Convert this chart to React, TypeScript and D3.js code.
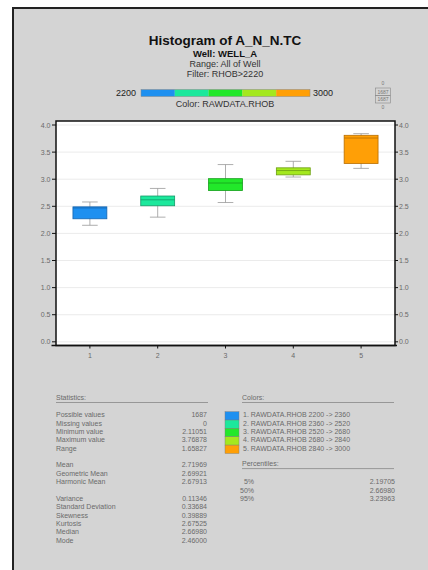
import * as d3 from "d3";
import React from "react";

// box plot data (RHOB classes, g/cc)
const classes = [1, 2, 3, 4, 5];
const whiskerLow = [2.15, 2.3, 2.57, 3.04, 3.2];
const q1 = [2.27, 2.51, 2.79, 3.08, 3.29];
const median = [2.47, 2.62, 2.93, 3.16, 3.76];
const q3 = [2.49, 2.69, 3.01, 3.21, 3.81];
const whiskerHigh = [2.58, 2.83, 3.27, 3.33, 3.84];
const classColors = ["#1e90f0", "#1ce89c", "#22e82a", "#a4e81e", "#ff9f06"];
const classStroke = ["#1565b0", "#129a68", "#16a01c", "#6c9e12", "#b86e00"];
const yTicks = [0, 0.5, 1, 1.5, 2, 2.5, 3, 3.5, 4];

const statGroups = [
  [
    ["Possible values", "1687"],
    ["Missing values", "0"],
    ["Minimum value", "2.11051"],
    ["Maximum value", "3.76878"],
    ["Range", "1.65827"],
  ],
  [
    ["Mean", "2.71969"],
    ["Geometric Mean", "2.69921"],
    ["Harmonic Mean", "2.67913"],
  ],
  [
    ["Variance", "0.11346"],
    ["Standard Deviation", "0.33684"],
    ["Skewness", "0.39889"],
    ["Kurtosis", "2.67525"],
    ["Median", "2.66980"],
    ["Mode", "2.46000"],
  ],
];
const colorLabels = [
  "1. RAWDATA.RHOB 2200 -> 2360",
  "2. RAWDATA.RHOB 2360 -> 2520",
  "3. RAWDATA.RHOB 2520 -> 2680",
  "4. RAWDATA.RHOB 2680 -> 2840",
  "5. RAWDATA.RHOB 2840 -> 3000",
];
const percentiles = [
  ["5%", "2.19705"],
  ["50%", "2.66980"],
  ["95%", "3.23963"],
];

const font = "'Liberation Sans', Arial, sans-serif";
const grey = "#6a6a6a";

export default function App() {
  const margin = { left: 56, right: 395, top: 121, bottom: 345.5 };
  const x = d3.scaleLinear().domain([0.5, 5.5]).range([margin.left, margin.right]);
  const y = d3.scaleLinear().domain([-0.068, 4.074]).range([margin.bottom, margin.top]);
  const boxW = x(1.25) - x(1);
  const capW = x(1.115) - x(1);

  const rowH = 8.35;
  let row = 0;
  const statRows: { label: string; value: string; y: number }[] = [];
  statGroups.forEach((g, gi) => {
    g.forEach(([label, value]) => {
      statRows.push({ label, value, y: 417.3 + row * rowH + gi * rowH });
      row++;
    });
  });

  const barScale = d3.scaleLinear().domain([2200, 3000]).range([141, 310]);
  const barEdges = d3.range(2200, 3001, 160);

  return (
    <svg
      width={428}
      height={570}
      style={{ position: "absolute", left: 0, top: 0, fontFamily: font }}
    >
      <rect x={0} y={0} width={428} height={570} fill="#fff" />
      <rect x={13} y={8} width={430} height={580} fill="#d4d4d4" stroke="#222" strokeWidth={2} />

      {/* header */}
      <text x={225} y={45} textAnchor="middle" fontSize={13.5} fontWeight="bold" fill="#111">
        Histogram of A_N_N.TC
      </text>
      <text x={225} y={56.5} textAnchor="middle" fontSize={9.5} fontWeight="bold" fill="#111">
        Well:  WELL_A
      </text>
      <text x={225} y={66.7} textAnchor="middle" fontSize={9} fill="#333">
        Range: All of Well
      </text>
      <text x={225} y={77} textAnchor="middle" fontSize={9} fill="#333">
        Filter: RHOB&gt;2220
      </text>
      <text x={136} y={96} textAnchor="end" fontSize={9} fill="#222">2200</text>
      {barEdges.slice(0, -1).map((v, i) => (
        <rect
          key={v}
          x={barScale(v)}
          y={89.5}
          width={barScale(v + 160) - barScale(v)}
          height={7}
          fill={classColors[i]}
        />
      ))}
      <rect x={141} y={89.5} width={169} height={7} fill="none" stroke="#888" strokeWidth={0.5} />
      <text x={313} y={96} fontSize={9} fill="#222">3000</text>
      <text x={225} y={107} textAnchor="middle" fontSize={9} fill="#333">
        Color: RAWDATA.RHOB
      </text>

      {/* small counts box */}
      <g fontSize={5} fill="#777" textAnchor="middle">
        <text x={383} y={85}>0</text>
        <rect x={375.5} y={88} width={15} height={7.5} fill="none" stroke="#888" strokeWidth={0.6} />
        <rect x={375.5} y={95.5} width={15} height={7.5} fill="none" stroke="#888" strokeWidth={0.6} />
        <text x={383} y={93.8}>1687</text>
        <text x={383} y={101.3}>1687</text>
        <text x={383} y={109}>0</text>
      </g>

      {/* plot area */}
      <rect
        x={margin.left}
        y={margin.top}
        width={margin.right - margin.left}
        height={margin.bottom - margin.top}
        fill="#fff"
      />
      {yTicks.map((t) => (
        <line key={t} x1={margin.left} x2={margin.right} y1={y(t)} y2={y(t)} stroke="#e6e6e6" strokeWidth={0.8} />
      ))}

      {classes.map((c, i) => (
        <g key={c}>
          <line x1={x(c)} x2={x(c)} y1={y(whiskerLow[i])} y2={y(whiskerHigh[i])} stroke="#999" strokeWidth={0.8} />
          <line x1={x(c) - capW} x2={x(c) + capW} y1={y(whiskerLow[i])} y2={y(whiskerLow[i])} stroke="#999" strokeWidth={0.8} />
          <line x1={x(c) - capW} x2={x(c) + capW} y1={y(whiskerHigh[i])} y2={y(whiskerHigh[i])} stroke="#999" strokeWidth={0.8} />
          <rect
            x={x(c) - boxW}
            y={y(q3[i])}
            width={boxW * 2}
            height={y(q1[i]) - y(q3[i])}
            fill={classColors[i]}
            stroke={classStroke[i]}
            strokeWidth={0.8}
          />
          <line x1={x(c) - boxW} x2={x(c) + boxW} y1={y(median[i])} y2={y(median[i])} stroke={classStroke[i]} strokeWidth={0.8} />
        </g>
      ))}

      {/* frame and axes */}
      <rect
        x={margin.left}
        y={margin.top}
        width={margin.right - margin.left}
        height={margin.bottom - margin.top}
        fill="none"
        stroke="#111"
        strokeWidth={1.5}
      />
      <line x1={51.5} x2={397} y1={margin.bottom} y2={margin.bottom} stroke="#111" strokeWidth={1.5} />
      {yTicks.map((t) => (
        <g key={t} fontSize={7} fill={grey}>
          <line x1={margin.left - 4} x2={margin.left} y1={y(t)} y2={y(t)} stroke="#111" strokeWidth={1} />
          <text x={50.5} y={y(t) + 2.5} textAnchor="end">{t.toFixed(1)}</text>
          <line x1={margin.right} x2={margin.right + 3} y1={y(t)} y2={y(t)} stroke="#111" strokeWidth={1} />
          <text x={399} y={y(t) + 2.5}>{t.toFixed(1)}</text>
        </g>
      ))}
      {classes.map((c) => (
        <g key={c} fontSize={7} fill={grey}>
          <line x1={x(c)} x2={x(c)} y1={margin.bottom} y2={margin.bottom + 3} stroke="#111" strokeWidth={1} />
          <text x={x(c)} y={358} textAnchor="middle">{c}</text>
        </g>
      ))}

      {/* statistics */}
      <g fontSize={7} fill={grey}>
        <text x={56} y={400}>Statistics:</text>
        <line x1={56} x2={208} y1={402.5} y2={402.5} stroke="#888" strokeWidth={0.8} />
        {statRows.map((r) => (
          <g key={r.label}>
            <text x={56} y={r.y}>{r.label}</text>
            <text x={207} y={r.y} textAnchor="end">{r.value}</text>
          </g>
        ))}

        <text x={242} y={400}>Colors:</text>
        <line x1={242} x2={394} y1={402.5} y2={402.5} stroke="#888" strokeWidth={0.8} />
        {colorLabels.map((l, i) => (
          <g key={l}>
            <rect x={225} y={411.7 + i * rowH} width={14} height={rowH} fill={classColors[i]} stroke="#777" strokeWidth={0.4} />
            <text x={243} y={417.3 + i * rowH}>{l}</text>
          </g>
        ))}

        <text x={242} y={466}>Percentiles:</text>
        <line x1={242} x2={394} y1={468.6} y2={468.6} stroke="#888" strokeWidth={0.8} />
        {percentiles.map(([p, v], i) => (
          <g key={p}>
            <text x={254} y={484.3 + i * rowH} textAnchor="end">{p}</text>
            <text x={395} y={484.3 + i * rowH} textAnchor="end">{v}</text>
          </g>
        ))}
      </g>
    </svg>
  );
}
